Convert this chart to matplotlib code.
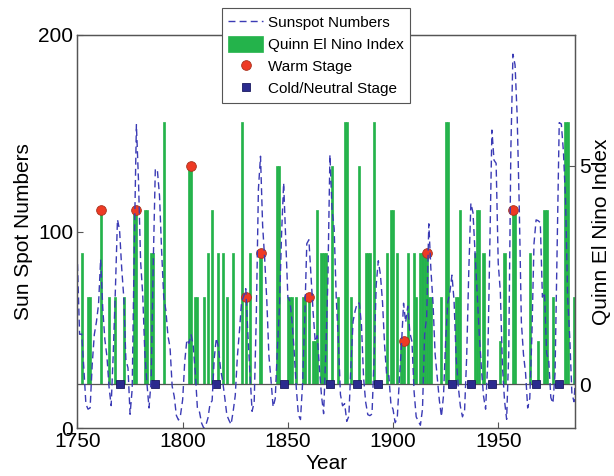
import numpy as np
import matplotlib
matplotlib.use("Agg")
from matplotlib import pyplot as plt

plt.rcParams["font.family"] = ["Liberation Sans", "DejaVu Sans"]

# Yearly sunspot numbers, 1750 onwards
sunspot_start = 1750
sunspots = [
    83.4, 47.7, 47.8, 30.7, 12.2, 9.6, 10.2, 32.4, 47.6, 54.0,
    62.9, 85.9, 61.2, 45.1, 36.4, 20.9, 11.4, 37.8, 69.8, 106.1,
    100.8, 81.6, 66.5, 34.8, 30.6, 7.0, 19.8, 92.5, 154.4, 125.9,
    84.8, 68.1, 38.5, 22.8, 10.2, 24.1, 82.9, 132.0, 130.9, 118.1,
    89.9, 66.6, 60.0, 46.9, 41.0, 21.3, 16.0, 6.4, 4.1, 6.8,
    14.5, 34.0, 45.0, 43.1, 47.5, 42.2, 28.1, 10.1, 8.1, 2.5,
    0.0, 1.4, 5.0, 12.2, 13.9, 35.4, 45.8, 41.1, 30.1, 23.9,
    15.6, 6.6, 4.0, 1.8, 8.5, 16.6, 36.3, 49.6, 64.2, 67.0,
    70.9, 47.8, 27.5, 8.5, 13.2, 56.9, 121.5, 138.3, 103.2, 85.7,
    64.6, 36.7, 24.2, 10.7, 15.0, 40.1, 61.5, 98.5, 124.7, 96.3,
    66.6, 64.5, 54.1, 39.0, 20.6, 6.7, 4.3, 22.7, 54.8, 93.8,
    95.8, 77.2, 59.1, 44.0, 47.0, 30.5, 16.3, 7.3, 37.6, 74.0,
    139.0, 111.2, 101.6, 66.2, 44.7, 17.0, 11.3, 12.4, 3.4, 6.0,
    32.3, 54.3, 59.7, 63.7, 63.5, 52.2, 25.4, 13.1, 6.8, 6.3,
    7.1, 35.6, 73.0, 85.1, 78.0, 64.0, 41.8, 26.2, 26.7, 12.1,
    9.5, 2.7, 5.0, 24.4, 42.0, 63.5, 53.8, 62.0, 48.5, 43.9,
    18.6, 5.7, 3.6, 1.4, 9.6, 47.4, 57.1, 103.9, 80.6, 63.6,
    37.6, 26.1, 14.2, 5.8, 16.7, 44.3, 63.9, 69.0, 77.8, 64.9,
    35.7, 21.2, 11.1, 5.7, 8.7, 36.1, 79.7, 114.4, 109.6, 88.8,
    67.8, 47.5, 30.6, 16.3, 9.6, 33.2, 92.6, 151.6, 136.3, 134.7,
    83.9, 69.4, 31.5, 13.9, 4.4, 38.0, 141.7, 190.2, 184.8, 159.0,
    112.3, 53.9, 37.5, 27.9, 10.2, 15.1, 47.0, 93.8, 105.9, 105.5,
    104.5, 66.6, 68.9, 38.0, 34.5, 15.5, 12.6, 27.5, 92.5, 155.4,
    154.7, 140.5, 115.9, 66.6, 45.9, 17.9, 13.4, 29.4,
]
sunspot_years = np.arange(sunspot_start, sunspot_start + len(sunspots))

# Quinn El Nino index (years with an event)
nino_years = [
    1752, 1755, 1756, 1761, 1765, 1768, 1772, 1777, 1778, 1782, 1783,
    1785, 1786, 1791, 1803, 1804, 1806, 1807, 1810, 1812, 1814, 1817,
    1819, 1821, 1824, 1828, 1830, 1832, 1837, 1845, 1846, 1850, 1851,
    1852, 1854, 1857, 1858, 1860, 1862, 1863, 1864, 1866, 1867, 1868,
    1871, 1874, 1877, 1878, 1880, 1884, 1887, 1888, 1889, 1891, 1897,
    1899, 1900, 1902, 1904, 1905, 1907, 1910, 1911, 1913, 1914, 1915,
    1916, 1917, 1918, 1923, 1925, 1926, 1930, 1931, 1932, 1939, 1940,
    1941, 1943, 1951, 1953, 1957, 1958, 1965, 1969, 1972, 1973, 1976,
    1982, 1983, 1986,
]
nino_index = [
    3, 2, 2, 4, 2, 2, 2, 4, 4, 4, 4,
    3, 3, 6, 5, 5, 2, 2, 2, 3, 4, 3,
    3, 2, 3, 6, 2, 3, 3, 5, 5, 2, 2,
    2, 2, 2, 2, 2, 1, 1, 4, 3, 3, 3,
    5, 2, 6, 6, 2, 5, 3, 3, 3, 6, 3,
    4, 4, 3, 1, 1, 3, 3, 2, 3, 3, 3,
    3, 2, 2, 2, 6, 6, 2, 2, 4, 3, 4,
    4, 3, 1, 3, 4, 4, 3, 1, 4, 4, 2,
    6, 6, 2,
]

# warm stage markers (sit on top of the bar) and cold/neutral markers (at 0)
warm_years = [1761, 1778, 1804, 1830, 1837, 1860, 1905, 1916, 1957]
warm_index = [4, 4, 5, 2, 3, 2, 1, 3, 4]
cold_years = [1770, 1787, 1816, 1848, 1870, 1883, 1893, 1928, 1937, 1947, 1968, 1979]

green = "#24b34b"
axis_grey = "#555555"

fig = plt.figure(figsize=(6.14, 4.76), dpi=100)
ax = fig.add_axes([0.1262, 0.1008, 0.8103, 0.8257])
ax2 = ax.twinx()

# sunspot axes drawn on top so the dashes sit over the bars
ax.set_zorder(2)
ax.patch.set_visible(False)
ax2.set_zorder(1)

bars = ax2.bar(nino_years, nino_index, width=1.0, color=green,
               edgecolor=green, linewidth=0.5, label="Quinn El Nino Index")
ax2.axhline(0, color=axis_grey, lw=0.9, zorder=1)
warm, = ax2.plot(warm_years, warm_index, "o", ms=7, mfc="#ee3a24",
                 mec="#a8321e", mew=0.6, ls="none", label="Warm Stage")
cold, = ax2.plot(cold_years, [0] * len(cold_years), "s", ms=6.3, mfc="#2b2b8e",
                 mec="#1a1a60", mew=0.6, ls="none", label="Cold/Neutral Stage")

ssn, = ax.plot(sunspot_years, sunspots, color="#3b3bb5", lw=1.0,
               dashes=(5, 3), label="Sunspot Numbers")

ax.set_xlim(1750, 1986.5)
ax.set_ylim(0, 200)
ax2.set_ylim(-1, 8)

ax.set_xticks([1750, 1800, 1850, 1900, 1950])
ax.set_yticks([0, 100, 200])
ax2.set_yticks([0, 5])

for a in (ax, ax2):
    a.tick_params(direction="in", length=4, width=0.8, color=axis_grey,
                  labelsize=15, pad=3)
    for s in a.spines.values():
        s.set_color(axis_grey)
        s.set_linewidth(0.9)

ax.set_xlabel("Year", fontsize=15, labelpad=2)
ax.set_ylabel("Sun Spot Numbers", fontsize=15, labelpad=4)
ax2.set_ylabel("Quinn El Nino Index", fontsize=15, labelpad=1)

leg = ax.legend([ssn, bars, warm, cold],
                ["Sunspot Numbers", "Quinn El Nino Index", "Warm Stage",
                 "Cold/Neutral Stage"],
                loc="upper left", bbox_to_anchor=(222 / 614, 1 - 8 / 476),
                bbox_transform=fig.transFigure, borderaxespad=0,
                fontsize=11, handlelength=2.3, handleheight=1.2,
                handletextpad=0.3, labelspacing=0.4, borderpad=0.4,
                fancybox=False, framealpha=1, edgecolor=axis_grey)
leg.get_frame().set_linewidth(0.8)

fig.savefig("out.png", dpi=100)
